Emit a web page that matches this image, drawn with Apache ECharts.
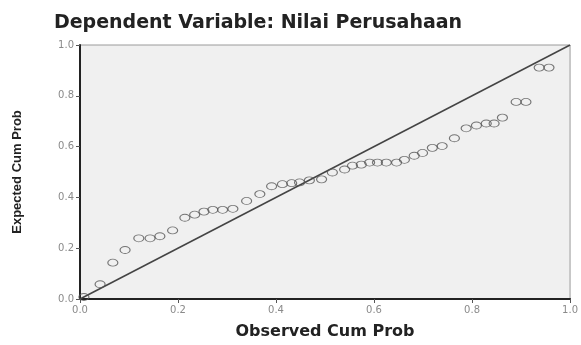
<!DOCTYPE html>
<html>
<head>
<meta charset="utf-8">
<script src="https://cdn.jsdelivr.net/npm/echarts@6/dist/echarts.min.js"></script>
<style>
html,body{margin:0;padding:0;background:#fff;}
#c{width:581px;height:345px;}
</style>
</head>
<body>
<div id="c"></div>
<script>
const titleText = 'Dependent Variable: Nilai Perusahaan';
const xAxisName = 'Observed Cum Prob';
const yAxisName = 'Expected Cum Prob';
const observed = [0.008,0.041,0.067,0.092,0.120,0.143,0.163,0.189,0.214,0.234,0.253,0.271,0.291,0.312,0.340,0.367,0.391,0.413,0.432,0.448,0.468,0.493,0.515,0.540,0.556,0.574,0.591,0.607,0.625,0.646,0.662,0.682,0.699,0.719,0.739,0.764,0.788,0.809,0.829,0.845,0.862,0.890,0.910,0.937,0.957];
const expected = [0.008,0.058,0.143,0.193,0.239,0.239,0.247,0.270,0.320,0.332,0.344,0.351,0.351,0.355,0.386,0.413,0.444,0.452,0.456,0.459,0.467,0.471,0.498,0.510,0.525,0.529,0.537,0.537,0.537,0.537,0.548,0.564,0.575,0.595,0.602,0.633,0.672,0.683,0.691,0.691,0.714,0.776,0.776,0.911,0.911];
const refLine = [[0,0],[1,1]];

const pts = observed.map((x,i)=>[x, expected[i]]);
const chart = echarts.init(document.getElementById('c'), null, {renderer:'canvas'});
const tickLabel = {color:'#8a8a8a', fontSize:10, fontFamily:'DejaVu Sans', formatter: v => v.toFixed(1)};
chart.setOption({
  animation:false,
  backgroundColor:'#ffffff',
  title:{text:titleText, left:253, textAlign:'center', top:9,
    textStyle:{fontFamily:'DejaVu Sans', fontWeight:'bold', fontSize:19, color:'#222'}},
  grid:{left:80, right:10, top:45, bottom:41, show:true, backgroundColor:'#f0f0f0', borderColor:'#9a9a9a', borderWidth:1},
  xAxis:{type:'value', min:0, max:1, interval:0.2,
    name:xAxisName, nameLocation:'middle', nameGap:25,
    nameTextStyle:{fontFamily:'DejaVu Sans', fontWeight:'bold', fontSize:16, color:'#222'},
    axisLine:{show:true, onZero:false, lineStyle:{color:'#222', width:2}},
    axisTick:{show:true, length:4, lineStyle:{color:'#555'}},
    axisLabel:Object.assign({margin:6}, tickLabel),
    splitLine:{show:false}},
  yAxis:{type:'value', min:0, max:1, interval:0.2,
    name:yAxisName, nameLocation:'middle', nameGap:56, nameRotate:90,
    nameTextStyle:{fontFamily:'Liberation Sans', fontWeight:'bold', fontSize:13, color:'#222'},
    axisLine:{show:true, onZero:false, lineStyle:{color:'#222', width:2}},
    axisTick:{show:true, length:4, lineStyle:{color:'#555'}},
    axisLabel:Object.assign({margin:6}, tickLabel),
    splitLine:{show:false}},
  series:[
    {type:'line', data:refLine, symbol:'none', lineStyle:{color:'#444', width:1.5}, z:2},
    {type:'scatter', data:pts, symbol:'circle', symbolSize:[10,7],
      itemStyle:{color:'rgba(0,0,0,0)', borderColor:'#555', borderWidth:1}, z:3}
  ]
});
</script>
</body>
</html>
